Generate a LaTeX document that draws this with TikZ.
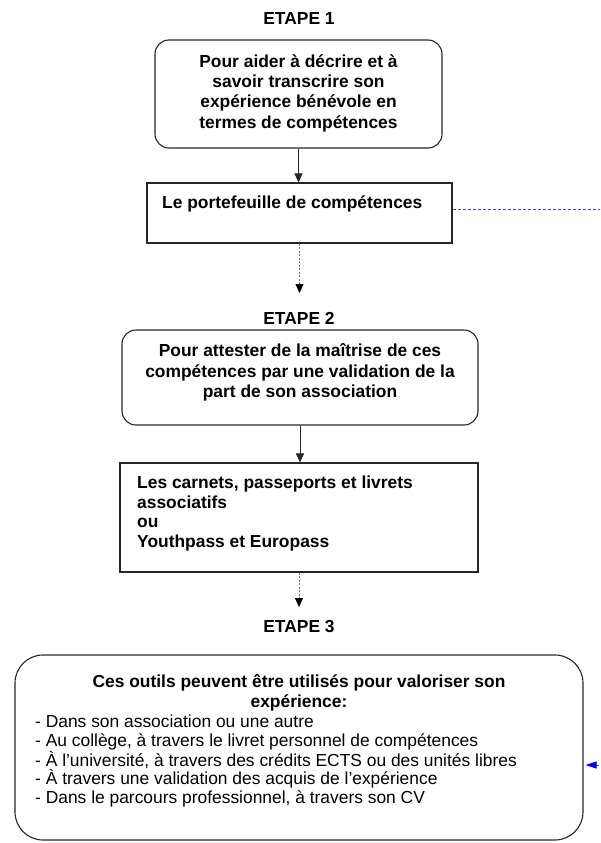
\documentclass[tikz,border=0pt]{standalone}
\usepackage{fontspec}
\setmainfont{Liberation Sans}
\usetikzlibrary{arrows.meta}
\definecolor{linkblue}{RGB}{70,70,255}
\begin{document}
\begin{tikzpicture}[x=1pt,y=1pt,
  every node/.style={font=\fontsize{17.4}{20}\selectfont, inner sep=0pt},
  boxr/.style={draw=black!85, line width=1.1pt, rounded corners=14pt},
  boxbig/.style={draw=black!85, line width=1.1pt, rounded corners=28pt},
  boxs/.style={draw=black!85, line width=1.1pt},
  steptitle/.style={font=\fontsize{17.4}{20}\selectfont\bfseries},
  boldtext/.style={font=\fontsize{17.4}{20.3}\selectfont\bfseries},
  solidarrow/.style={draw=black!85, line width=0.9pt, -{Triangle[width=8pt,length=9pt]}},
  dasharrow/.style={draw=black!55, line width=0.8pt, dash pattern=on 2pt off 1.5pt, -{Triangle[width=8pt,length=9pt,color=black]}},
  bluelink/.style={draw=linkblue, line width=1pt, dash pattern=on 3pt off 2pt, -{Triangle[width=7pt,length=11pt,color=blue]}, shorten >=2pt}
]
\useasboundingbox (0,0) rectangle (600,-843);
\clip (0,0) rectangle (600,-843);

% step titles
\node[steptitle] (etape1) at (299,-19) {ETAPE 1};
\node[steptitle] (etape2) at (299,-318) {ETAPE 2};
\node[steptitle] (etape3) at (299,-627) {ETAPE 3};

% boxes
\node[boxr, minimum width=287pt, minimum height=108pt] (box1) at (298.5,-94) {};
\node[boxs, minimum width=305pt, minimum height=60pt] (box2) at (299.5,-213) {};
\node[boxr, minimum width=356pt, minimum height=95pt] (box3) at (300,-377.5) {};
\node[boxs, minimum width=358pt, minimum height=109pt] (box4) at (299,-517.5) {};
\node[boxbig, minimum width=568pt, minimum height=185pt] (box5) at (299,-747.5) {};

% texts
\node[boldtext, align=center] (t1) at (298.5,-93)
  {Pour aider à décrire et à\\savoir transcrire son\\expérience bénévole en\\termes de compétences};
\node[boldtext, anchor=north west] (t2) at (162,-196) {Le portefeuille de compétences};
\node[boldtext, align=center] (t3) at (300,-372.5)
  {Pour attester de la maîtrise de ces\\compétences par une validation de la\\part de son association};
\node[font=\fontsize{17.4}{19.5}\selectfont\bfseries, align=left, anchor=north west] (t4) at (137,-476)
  {Les carnets, passeports et livrets\\associatifs\\ou\\Youthpass et Europass};
\node[boldtext, align=center] (t5a) at (299,-692.5)
  {Ces outils peuvent être utilisés pour valoriser son\\expérience:};
\node[font=\fontsize{17.4}{18.6}\selectfont, align=left, anchor=north west] (t5b) at (35,-715)
  {- Dans son association ou une autre\\
   - Au collège, à travers le livret personnel de compétences\\
   - À l'université, à travers des crédits ECTS ou des unités libres\\
   - À travers une validation des acquis de l'expérience\\
   - Dans le parcours professionnel, à travers son CV};

% free ends
\coordinate (tip2) at (299,-293);
\coordinate (tip3) at (299,-607);

% connectors
\draw[solidarrow] (box1.south) -- (box1.south |- box2.north);
\draw[dasharrow] (box2.south) -- (box2.south |- tip2);
\draw[solidarrow] (box3.south) -- (box3.south |- box4.north);
\draw[dasharrow] (box4.south) -- (box4.south |- tip3);
\draw[bluelink] ([yshift=4pt]box2.east) -- ++(170,0) |- ([yshift=-17.5pt]box5.east);
\end{tikzpicture}
\end{document}
